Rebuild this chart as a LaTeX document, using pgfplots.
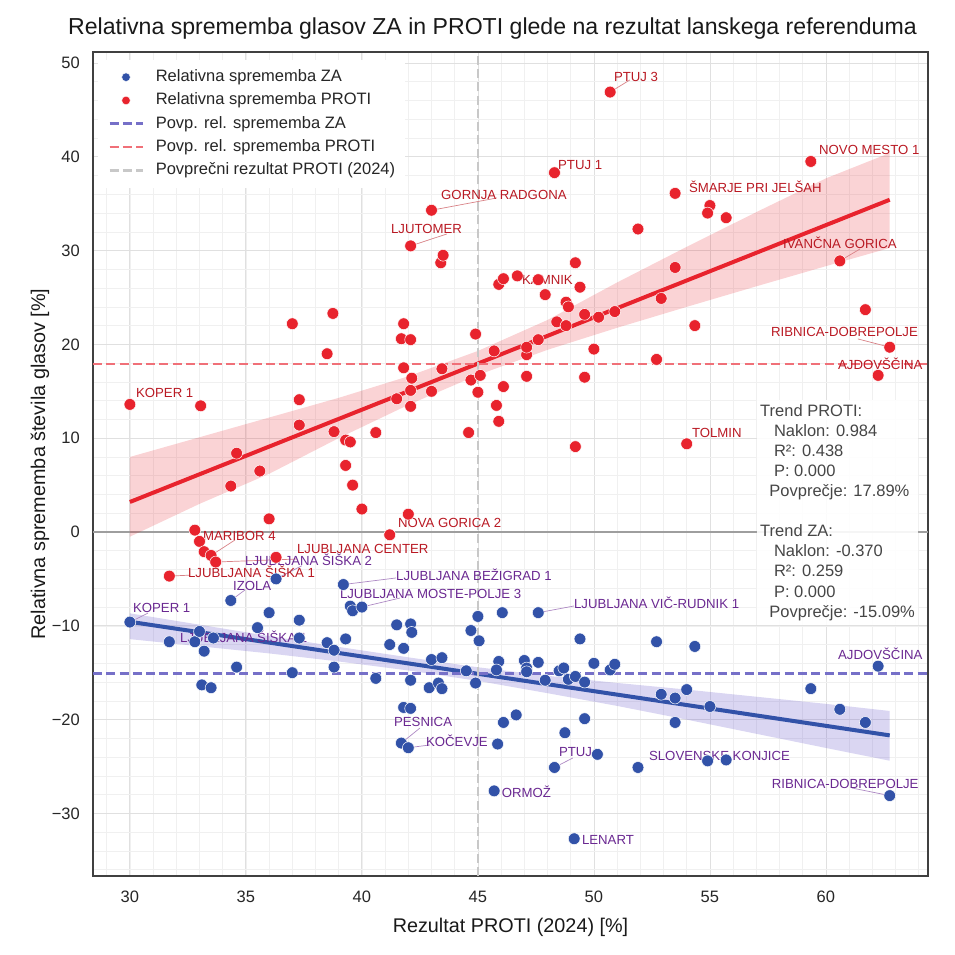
\documentclass[border=0pt]{standalone}
\usepackage{fontspec}
\setmainfont{Liberation Sans}
\usepackage{pgfplots}
\usepackage{pgfplotstable}
\pgfplotsset{compat=1.18}

\definecolor{ptblue}{RGB}{50,82,168}
\definecolor{ptred}{RGB}{232,35,45}
\definecolor{bandblue}{RGB}{106,90,205}
\definecolor{meanblue}{RGB}{118,112,200}
\definecolor{meanred}{RGB}{240,112,120}
\definecolor{meangray}{RGB}{200,200,200}
\definecolor{lblred}{RGB}{185,25,35}
\definecolor{lblpurple}{RGB}{106,40,145}
\definecolor{boxtext}{RGB}{70,70,70}

\newcommand\titlefont{\fontsize{23.1bp}{27bp}\selectfont}
\newcommand\labelfont{\fontsize{19.8bp}{23bp}\selectfont}
\newcommand\tickfont{\fontsize{16.5bp}{19bp}\selectfont}
\newcommand\annfont{\fontsize{13.2bp}{15bp}\selectfont}
\newcommand\boxfont{\fontsize{16.5bp}{20.1bp}\selectfont}

% relative change of PROTI votes vs. PROTI result (2024)
\pgfplotstableread{
x y
30.0 13.6
33.05 13.45
37.3 14.1
37.3 11.4
38.8 10.7
39.3 9.8
39.5 9.6
39.3 7.1
39.6 5.0
40.0 2.45
40.6 10.6
34.6 8.4
35.6 6.5
34.35 4.9
36.0 1.4
38.5 19.0
37.0 22.2
38.75 23.3
32.8 0.2
33.0 -1.0
33.2 -2.1
33.5 -2.5
33.7 -3.2
31.7 -4.7
42.0 1.9
41.2 -0.3
36.3 -2.7
43.4 28.7
41.8 22.2
41.7 20.6
42.1 20.5
41.8 17.5
42.15 16.4
42.1 15.1
41.5 14.2
42.1 13.4
43.0 15.0
43.45 17.4
44.6 10.6
44.9 21.1
45.7 19.3
44.7 16.2
45.1 16.7
45.0 14.9
46.1 15.5
45.8 13.5
45.9 11.8
49.2 9.1
47.1 16.6
47.1 18.9
47.1 19.7
47.6 20.5
48.4 22.4
48.8 22.0
49.6 23.2
50.2 22.9
50.9 23.5
50.0 19.5
49.6 16.5
48.8 24.5
48.9 24.0
47.9 25.3
49.4 26.1
49.2 28.7
45.9 26.4
46.1 27.0
46.7 27.3
47.6 26.9
50.7 46.9
48.3 38.3
43.0 34.3
42.1 30.5
43.5 29.5
51.9 32.3
59.35 39.5
53.5 36.1
55.0 34.8
54.9 34.0
55.7 33.5
60.6 28.9
53.5 28.2
52.9 24.9
54.35 22.0
61.7 23.7
52.7 18.4
62.75 19.7
62.25 16.7
54.0 9.4
}\protitable

% relative change of ZA votes vs. PROTI result (2024)
\pgfplotstableread{
x y
30.0 -9.6
31.7 -11.7
32.8 -11.7
33.0 -10.6
33.2 -12.7
33.6 -11.3
34.6 -14.4
33.1 -16.3
33.5 -16.6
34.35 -7.3
36.0 -8.6
35.5 -10.2
37.3 -9.4
37.3 -11.3
37.0 -15.0
38.5 -11.8
38.8 -12.6
38.8 -14.4
39.3 -11.4
39.5 -7.9
39.6 -8.4
40.0 -8.0
40.6 -15.6
36.3 -5.0
39.2 -5.6
41.5 -9.9
42.1 -9.8
42.15 -10.7
41.2 -12.0
41.8 -12.4
42.1 -15.8
43.0 -13.6
43.45 -13.4
42.9 -16.6
43.3 -16.1
43.45 -16.7
41.8 -18.7
42.1 -18.8
41.7 -22.5
42.0 -23.0
45.0 -9.0
46.05 -8.6
47.6 -8.6
44.7 -10.5
45.05 -11.6
44.5 -14.8
44.9 -16.1
45.9 -13.8
45.8 -14.7
47.0 -13.7
47.1 -14.5
47.1 -14.9
47.6 -13.9
47.9 -15.8
48.5 -14.8
48.7 -14.5
48.9 -15.7
49.2 -15.4
49.6 -16.0
49.4 -11.4
50.0 -14.0
50.7 -14.7
50.9 -14.1
46.1 -20.3
46.65 -19.5
45.85 -22.6
45.7 -27.6
49.15 -32.7
48.75 -21.4
49.6 -19.9
48.3 -25.1
50.15 -23.7
51.9 -25.1
52.7 -11.7
54.35 -12.2
62.25 -14.3
52.9 -17.3
53.5 -17.7
54.0 -16.8
55.0 -18.6
53.5 -20.3
54.9 -24.4
55.7 -24.3
59.35 -16.7
60.6 -18.9
61.7 -20.3
62.75 -28.1
}\zatable

\begin{document}
\begin{tikzpicture}
\useasboundingbox (-93bp,-79bp) rectangle (862bp,876bp);
\begin{axis}[
  at={(0,0)}, anchor=south west,
  scale only axis, width=835bp, height=824bp,
  xmin=28.41, xmax=64.40, ymin=-36.67, ymax=51.17,
  clip=false,
  xtick={30,35,...,60},
  ytick={-30,-20,...,50},
  yticklabels={−30,−20,−10,0,10,20,30,40,50},
  minor xtick={29,30,...,64},
  minor ytick={-36,-34,...,50},
  grid=both,
  major grid style={draw=black!12, line width=0.8bp},
  minor grid style={draw=black!6, line width=0.6bp},
  major tick length=0pt, minor tick length=0pt,
  axis line style={draw=black!75, line width=1.1bp},
  /pgf/number format/assume math mode=true,
  tick label style={font=\tickfont, text=black!85},
  xticklabel style={anchor=base, yshift=-26.9bp},
  yticklabel style={anchor=east, inner sep=0pt, xshift=-13bp},
  title={Relativna sprememba glasov ZA in PROTI glede na rezultat lanskega referenduma},
  title style={font=\titlefont, text=black!90, at={(axis description cs:0.4784,1.0142)}, anchor=base},
  xlabel={Rezultat PROTI (2024) [\%]},
  xlabel style={font=\labelfont, text=black!90, at={(axis description cs:0.5,-0.068)}, anchor=base},
  ylabel={Relativna sprememba števila glasov [\%]},
  ylabel style={font=\labelfont, text=black!90, at={(axis description cs:-0.0574,0.5)}, anchor=base},
  legend image code/.code={\draw[mark repeat=2,mark phase=2,#1] plot coordinates {(0bp,0bp) (16.5bp,0bp) (33bp,0bp)};},
  legend cell align=left,
  legend style={
    at={(axis description cs:0.006,0.9909)}, anchor=north west,
    draw=none, fill=white,
    inner xsep=10bp, inner ysep=9bp,
    row sep=6.3bp, column sep=12bp,
    font=\tickfont, text=black!85,
    nodes={inner sep=0pt, text height=13bp, text depth=4bp},
  },
]

% legend entries
\addlegendimage{only marks, mark=*, mark size=4.3bp, mark options={fill=ptblue, draw=white, line width=0.4bp}}
\addlegendentry{Relativna sprememba ZA}
\addlegendimage{only marks, mark=*, mark size=4.3bp, mark options={fill=ptred, draw=white, line width=0.4bp}}
\addlegendentry{Relativna sprememba PROTI}
\addlegendimage{meanblue, line width=2.6bp, dash pattern=on 9bp off 4.3bp}
\addlegendentry{Povp. rel. sprememba ZA}
\addlegendimage{meanred, line width=2.6bp, dash pattern=on 9bp off 4.3bp}
\addlegendentry{Povp. rel. sprememba PROTI}
\addlegendimage{meangray, line width=2.6bp, dash pattern=on 9bp off 4.3bp}
\addlegendentry{Povprečni rezultat PROTI (2024)}

% zero line
\addplot[forget plot, black!38, line width=1.3bp] coordinates {(28.41,0) (64.40,0)};

% confidence bands of the linear fits
\addplot[forget plot, draw=none, fill=ptred, fill opacity=0.2] coordinates {
 (30,8.0) (33,10.1) (36,12.2) (39,14.3) (42,16.6) (45,19.3) (48,22.6) (51,26.6) (54,30.4) (57,34.1) (60,37.7) (62.75,40.4)
 (62.75,30.28) (60,28.34) (57,26.19) (54,24.0) (51,21.77) (48,19.42) (45,16.74) (42,13.55) (39,10.01) (36,6.2) (33,3.0) (30,-0.5)
};
\addplot[forget plot, draw=none, fill=bandblue, fill opacity=0.25] coordinates {
 (30,-8.67) (33,-9.88) (36,-11.09) (39,-12.25) (42,-13.36) (45,-14.42) (48,-15.33) (51,-16.09) (54,-16.8) (57,-17.56) (60,-18.32) (62.75,-19.08)
 (62.75,-24.38) (60,-23.02) (57,-21.51) (54,-20.0) (51,-18.54) (48,-17.18) (45,-15.87) (42,-14.76) (39,-13.8) (36,-12.94) (33,-12.18) (30,-11.42)
};

% linear fits
\addplot[forget plot, ptred, line width=4bp] coordinates {(30.0,3.20) (62.75,35.42)};
\addplot[forget plot, ptblue, line width=4bp] coordinates {(30.0,-9.57) (62.75,-21.68)};

% mean lines
\addplot[forget plot, meanred, line width=2.6bp, dash pattern=on 9bp off 4.3bp] coordinates {(28.41,17.89) (64.40,17.89)};
\addplot[forget plot, meanblue, line width=2.6bp, dash pattern=on 9bp off 4.3bp] coordinates {(28.41,-15.09) (64.40,-15.09)};
\addplot[forget plot, meangray, line width=2.6bp, dash pattern=on 9bp off 4.3bp] coordinates {(45.0,-36.67) (45.0,51.17)};

% connectors of the annotations
\begin{scope}[line width=0.7bp]
\draw[lblred!55] (axis cs:50.7,46.9) -- (axis cs:51.55,48.19);
\draw[lblred!55] (axis cs:43.0,34.3) -- (axis cs:45.82,35.61);
\draw[lblred!55] (axis cs:42.1,30.5) -- (axis cs:43.66,31.77);
\draw[lblred!55] (axis cs:60.6,28.9) -- (axis cs:61.47,30.17);
\draw[lblred!55] (axis cs:62.75,19.7) -- (axis cs:61.38,20.58);
\draw[lblred!55] (axis cs:33.5,-2.5) -- (axis cs:34.53,-0.85);
\draw[lblred!55] (axis cs:33.7,-3.2) -- (axis cs:37.2,-2.88);
\draw[lblred!55] (axis cs:31.7,-4.7) -- (axis cs:32.59,-4.6);
\draw[lblpurple!55] (axis cs:36.3,-5.0) -- (axis cs:37.41,-3.6);
\draw[lblpurple!55] (axis cs:34.35,-7.3) -- (axis cs:34.96,-6.18);
\draw[lblpurple!55] (axis cs:39.2,-5.6) -- (axis cs:41.47,-4.9);
\draw[lblpurple!55] (axis cs:40.0,-8.0) -- (axis cs:41.64,-7.04);
\draw[lblpurple!55] (axis cs:30.0,-9.6) -- (axis cs:30.78,-8.64);
\draw[lblpurple!55] (axis cs:47.6,-8.6) -- (axis cs:49.14,-7.89);
\draw[lblpurple!55] (axis cs:41.7,-22.5) -- (axis cs:42.5,-20.9);
\draw[lblpurple!55] (axis cs:42.0,-23.0) -- (axis cs:42.93,-22.7);
\draw[lblpurple!55] (axis cs:48.3,-25.1) -- (axis cs:49.09,-24.09);
\draw[lblpurple!55] (axis cs:62.75,-28.1) -- (axis cs:61.12,-27.29);
\end{scope}

% points
\addplot[forget plot, only marks, mark=*, mark size=5.9bp, mark options={fill=ptblue, draw=white, line width=0.5bp}] table {\zatable};
\addplot[forget plot, only marks, mark=*, mark size=5.9bp, mark options={fill=ptred, draw=white, line width=0.5bp}] table {\protitable};

% annotations
\begin{scope}[every node/.style={anchor=west, inner sep=0pt, font=\annfont}]
\node[text=lblred] at (axis cs:50.86,48.51) {PTUJ 3};
\node[text=lblred] at (axis cs:48.45,39.13) {PTUJ 1};
\node[text=lblred] at (axis cs:59.70,40.72) {NOVO MESTO 1};
\node[text=lblred] at (axis cs:43.41,35.93) {GORNJA RADGONA};
\node[text=lblred] at (axis cs:54.09,36.78) {ŠMARJE PRI JELŠAH};
\node[text=lblred] at (axis cs:41.25,32.30) {LJUTOMER};
\node[text=lblred] at (axis cs:58.15,30.81) {IVANČNA GORICA};
\node[text=lblred] at (axis cs:46.90,26.87) {KAMNIK};
\node[text=lblred] at (axis cs:57.63,21.32) {RIBNICA-DOBREPOLJE};
\node[text=lblred] at (axis cs:60.52,17.91) {AJDOVŠČINA};
\node[text=lblred] at (axis cs:30.26,14.82) {KOPER 1};
\node[text=lblred] at (axis cs:54.22,10.55) {TOLMIN};
\node[text=lblred] at (axis cs:41.55,0.96) {NOVA GORICA 2};
\node[text=lblred] at (axis cs:33.15,-0.43) {MARIBOR 4};
\node[text=lblred] at (axis cs:37.20,-1.81) {LJUBLJANA CENTER};
\node[text=lblred] at (axis cs:32.50,-4.25) {LJUBLJANA ŠIŠKA 1};
\node[text=lblpurple] at (axis cs:34.96,-2.95) {LJUBLJANA ŠIŠKA 2};
\node[text=lblpurple] at (axis cs:41.47,-4.51) {LJUBLJANA BEŽIGRAD 1};
\node[text=lblpurple] at (axis cs:34.44,-5.76) {IZOLA};
\node[text=lblpurple] at (axis cs:39.05,-6.64) {LJUBLJANA MOSTE-POLJE 3};
\node[text=lblpurple] at (axis cs:49.14,-7.57) {LJUBLJANA VIČ-RUDNIK 1};
\node[text=lblpurple] at (axis cs:30.13,-8.10) {KOPER 1};
\node[text=lblpurple] at (axis cs:32.16,-11.19) {LJUBLJANA ŠIŠKA 1};
\node[text=lblpurple] at (axis cs:60.52,-13.0) {AJDOVŠČINA};
\node[text=lblpurple] at (axis cs:41.38,-20.26) {PESNICA};
\node[text=lblpurple] at (axis cs:42.76,-22.31) {KOČEVJE};
\node[text=lblpurple] at (axis cs:48.49,-23.49) {PTUJ};
\node[text=lblpurple] at (axis cs:52.37,-23.92) {SLOVENSKE KONJICE};
\node[text=lblpurple] at (axis cs:57.66,-26.87) {RIBNICA-DOBREPOLJE};
\node[text=lblpurple] at (axis cs:46.02,-27.65) {ORMOŽ};
\node[text=lblpurple] at (axis cs:49.48,-32.87) {LENART};
\end{scope}

% fit statistics
\node[anchor=north west, fill=white, fill opacity=0.9, text opacity=1, inner xsep=3bp, inner ysep=4bp,
      text=boxtext, font=\boxfont, align=left] at (axis cs:57.03,14.07)
{Trend PROTI:\\
 \hspace*{13.8bp}Naklon: 0.984\\
 \hspace*{13.8bp}R²: 0.438\\
 \hspace*{13.8bp}P: 0.000\\
 \hspace*{9.2bp}Povprečje: 17.89\%\\[20.1bp]
 Trend ZA:\\
 \hspace*{13.8bp}Naklon: -0.370\\
 \hspace*{13.8bp}R²: 0.259\\
 \hspace*{13.8bp}P: 0.000\\
 \hspace*{9.2bp}Povprečje: -15.09\%};

\end{axis}
\end{tikzpicture}
\end{document}
